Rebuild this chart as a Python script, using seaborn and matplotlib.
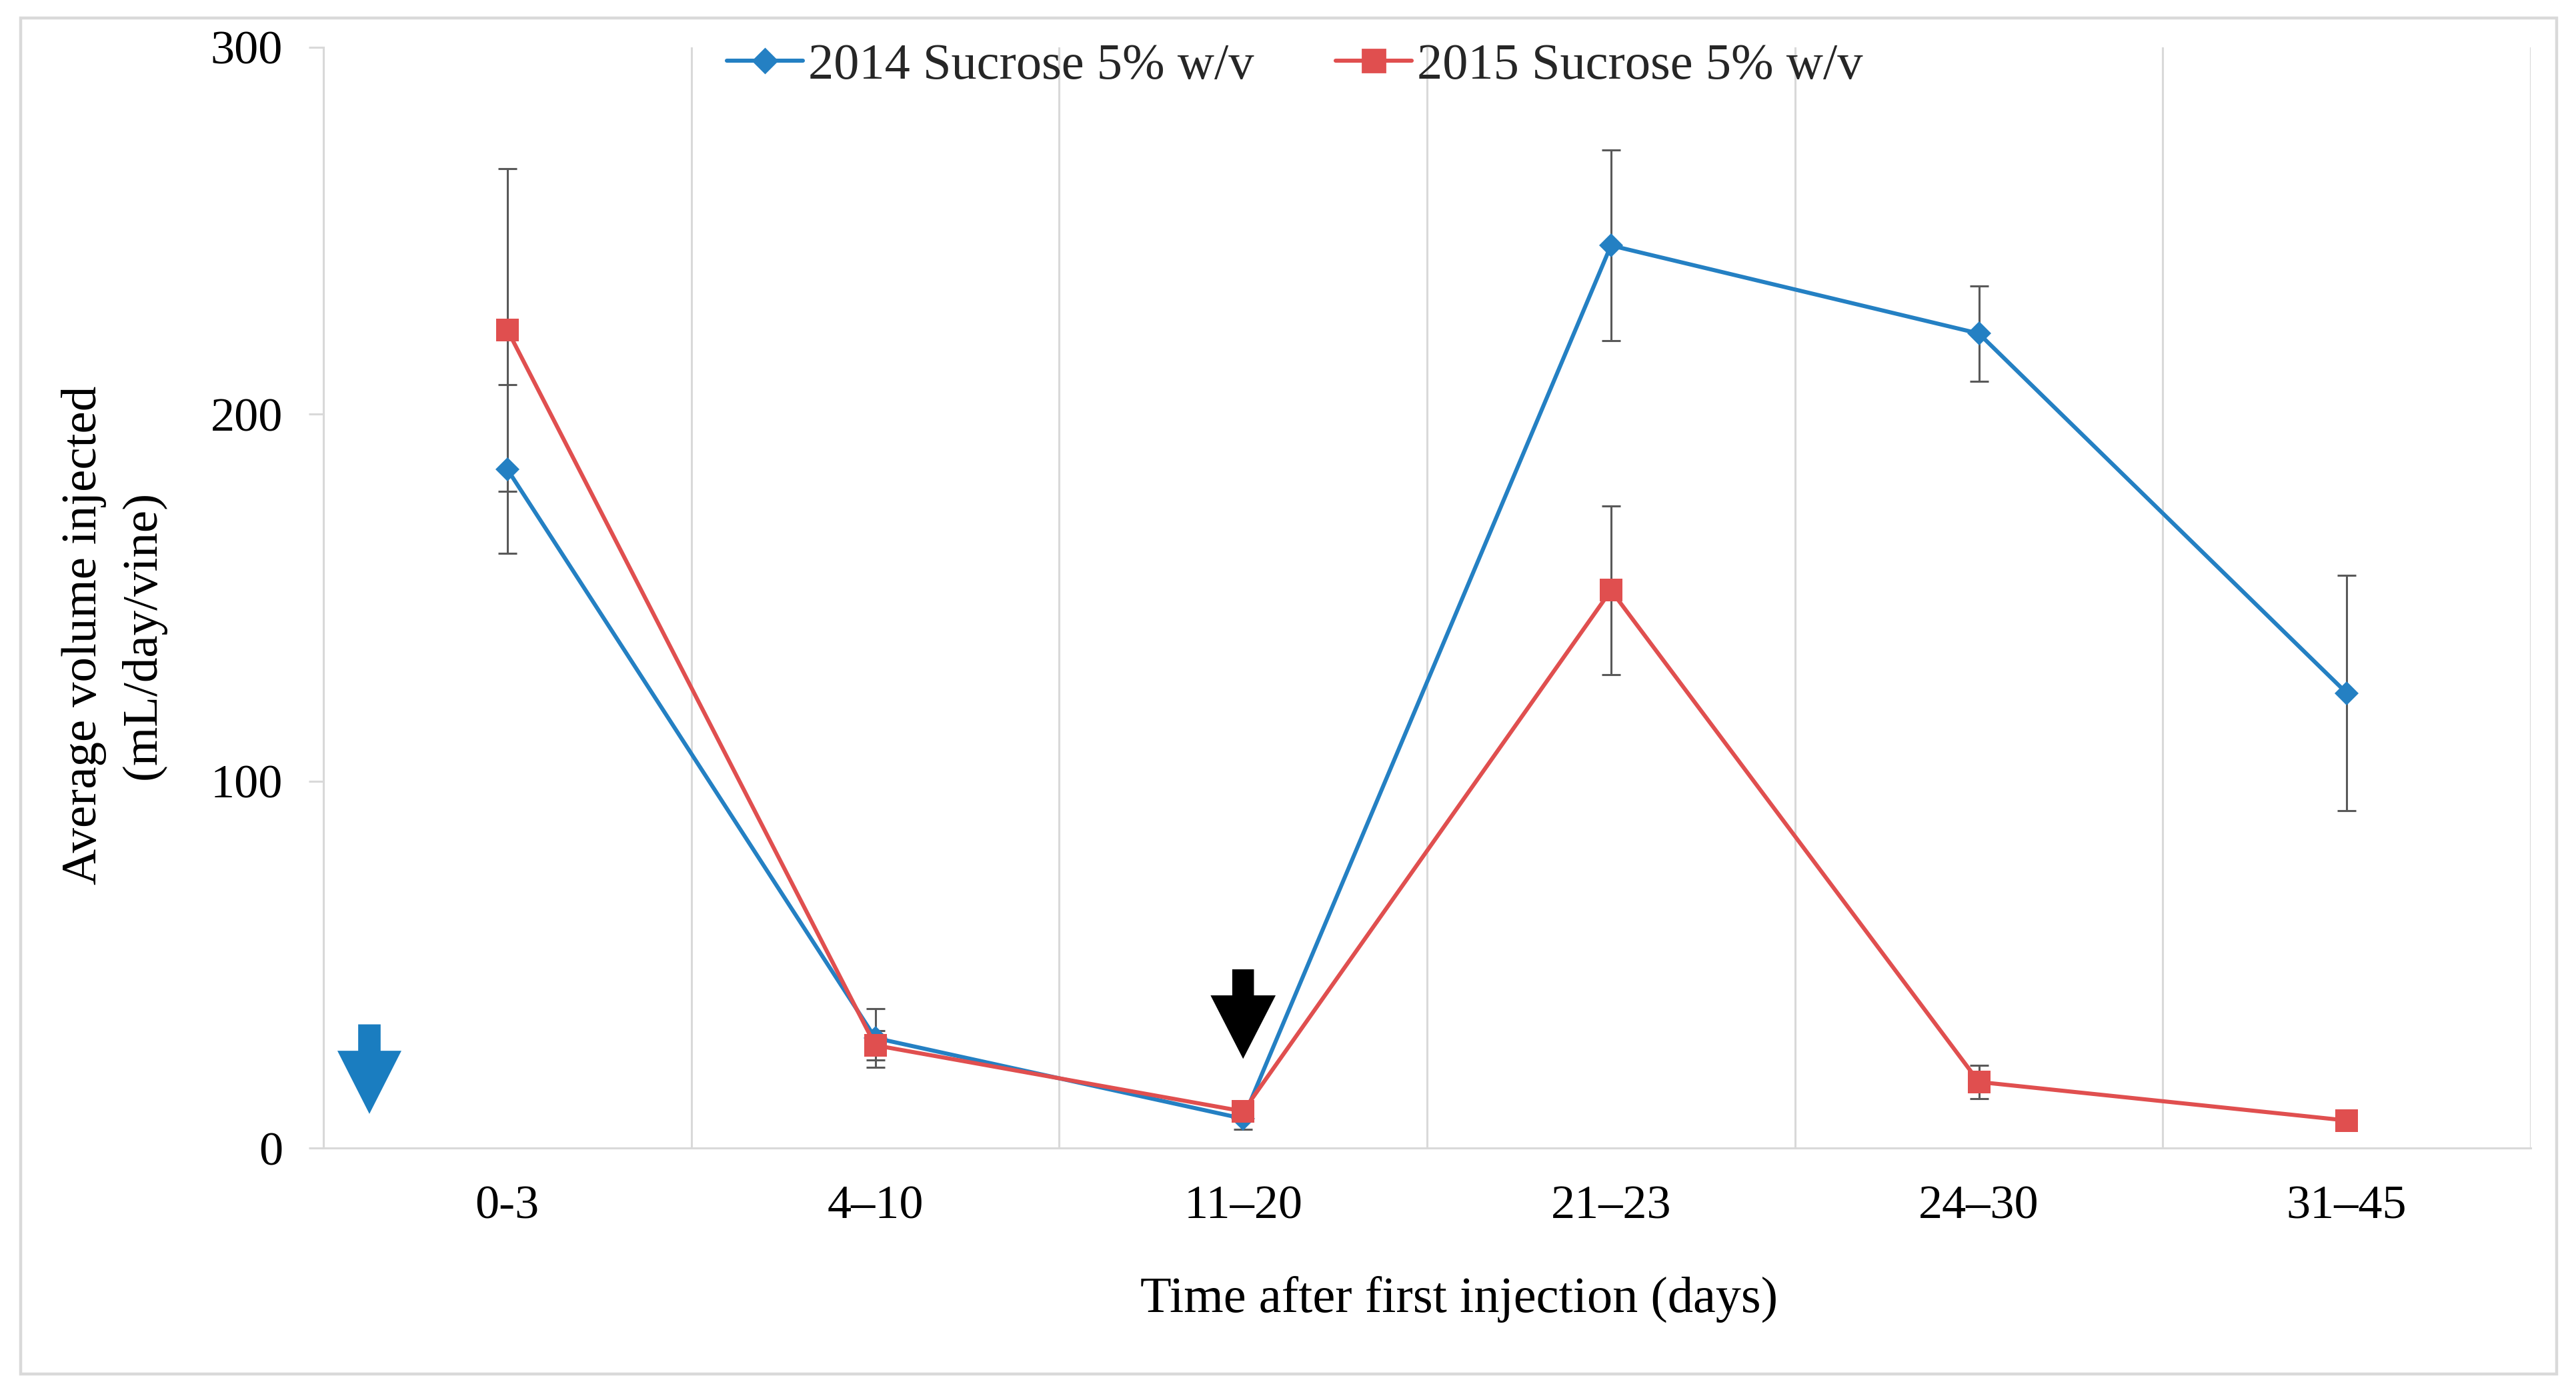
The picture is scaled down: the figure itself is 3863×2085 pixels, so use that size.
import matplotlib
matplotlib.use("Agg")
import matplotlib.pyplot as plt
import matplotlib.patches as mpatches
from matplotlib.lines import Line2D
import seaborn as sns
import pandas as pd
import numpy as np

# ---- data ----
periods = ["0-3", "4\u201310", "11\u201320", "21\u201323", "24\u201330", "31\u201345"]
series_2014 = "2014 Sucrose 5% w/v"
series_2015 = "2015 Sucrose 5% w/v"
vol_2014 = [185, 30, 8, 246, 222, 124]
err_2014 = [23, 8, 3, 26, 13, 32]
vol_2015 = [223, 28, 10, 152, 18, 7.5]
err_2015 = [44, 4, 1, 23, 4.5, 1]
y_ticks = [0, 100, 200, 300]

blue = "#2480c3"
red = "#e04f4f"
grid_c = "#d9d9d9"
err_c = "#595959"

sns.set_theme(style="white")
plt.rcParams["font.family"] = ["Liberation Serif", "DejaVu Serif"]

W, H, DPI = 3863, 2085, 200
fig = plt.figure(figsize=(W / DPI, H / DPI), dpi=DPI)
ax = fig.add_axes([485 / W, 1 - 1722 / H, (3795 - 485) / W, (1722 - 71) / H])

df = pd.DataFrame({
    "period": periods * 2,
    "volume": vol_2014 + vol_2015,
    "series": [series_2014] * len(periods) + [series_2015] * len(periods),
})

sns.lineplot(data=df, x="period", y="volume", hue="series", style="series",
             palette={series_2014: blue, series_2015: red},
             markers={series_2014: "D", series_2015: "s"}, dashes=False,
             sort=False, legend=False, linewidth=2.2, markersize=10,
             markeredgewidth=0, ax=ax, zorder=2.5)
for ln in ax.get_lines():
    ln.set_markeredgecolor(ln.get_color())
    if ln.get_marker() == "D":
        ln.set_markersize(9)
    else:
        ln.set_markersize(12)

# error bars
ax.errorbar(periods, vol_2014, yerr=err_2014, fmt="none", ecolor=err_c,
            elinewidth=1.1, capsize=4.9, capthick=1.1, zorder=1.8)
ax.errorbar(periods, vol_2015, yerr=err_2015, fmt="none", ecolor=err_c,
            elinewidth=1.1, capsize=4.9, capthick=1.1, zorder=1.8)

# axes styling
ax.set_xlim(-0.5, len(periods) - 0.5)
ax.set_ylim(0, 300)
ax.set_yticks(y_ticks)
ax.set_xticks(range(len(periods)))
ax.set_xticklabels(periods)
ax.set_xticks(np.arange(-0.5, len(periods), 1.0), minor=True)
ax.grid(False)
ax.grid(True, which="minor", axis="x", color=grid_c, linewidth=1.1)
ax.set_axisbelow(True)
for s in ["top", "right"]:
    ax.spines[s].set_visible(False)
for s in ["left", "bottom"]:
    ax.spines[s].set_color(grid_c)
    ax.spines[s].set_linewidth(1.1)
ax.tick_params(axis="y", which="major", left=True, length=8, width=1.1,
               color=grid_c, pad=14, labelsize=26, labelcolor="black")
ax.tick_params(axis="x", which="both", bottom=False, length=0, pad=20,
               labelsize=26, labelcolor="black")

ax.set_xlabel("Time after first injection (days)", fontsize=27.5, color="black")
ax.xaxis.set_label_coords(0.5145, -0.117)
ax.set_ylabel("Average volume injected\n(mL/day/vine)", fontsize=27,
              color="black", linespacing=1.4)
ax.yaxis.set_label_coords(-0.0713, 0.466)

# injection arrows
ax.arrow(-0.375, 33.7, 0, -24.4, width=0.061, head_width=0.174,
         head_length=17.2, length_includes_head=True, color="#1a7dc0",
         linewidth=0, zorder=3)
ax.arrow(2.0, 48.7, 0, -24.4, width=0.059, head_width=0.177,
         head_length=17.3, length_includes_head=True, color="black",
         linewidth=0, zorder=3)

# legend
handles = [
    Line2D([], [], color=blue, marker="D", markersize=9, linewidth=2.2,
           markeredgecolor=blue),
    Line2D([], [], color=red, marker="s", markersize=12, linewidth=2.2,
           markeredgecolor=red),
]
ax.legend(handles, [series_2014, series_2015], loc="center",
          bbox_to_anchor=(0.44, 0.983), ncol=2, frameon=False,
          fontsize=27.5, handlelength=1.5, handletextpad=0.1,
          columnspacing=1.6)

# outer border
fig.patches.append(mpatches.Rectangle(
    (30.6 / W, 1 - 2061 / H), (3834 - 30.6) / W, (2061 - 26.6) / H,
    transform=fig.transFigure, fill=False, edgecolor=grid_c, linewidth=1.6))

fig.savefig("out.png", dpi=DPI, facecolor="white")
